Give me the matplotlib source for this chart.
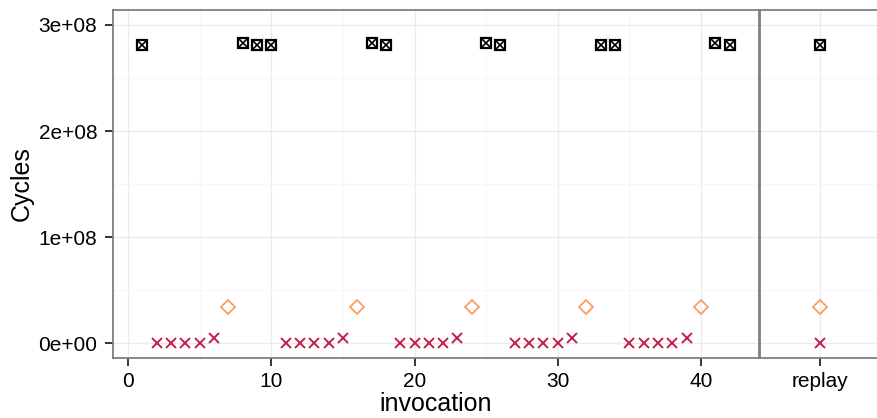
import matplotlib
matplotlib.use("Agg")
import matplotlib.pyplot as plt
from matplotlib.ticker import FixedLocator, FuncFormatter

plt.rcParams['font.family'] = ['Liberation Sans', 'DejaVu Sans']

# black boxed crosses: the big runs
big_x = [1, 8, 9, 10, 17, 18, 25, 26, 33, 34, 41, 42]
big_y = [2.81e8, 2.83e8, 2.81e8, 2.81e8, 2.83e8, 2.81e8,
         2.83e8, 2.81e8, 2.81e8, 2.81e8, 2.83e8, 2.81e8]

# orange diamonds
mid_x = [7, 16, 24, 32, 40]
mid_y = [0.345e8, 0.345e8, 0.345e8, 0.345e8, 0.345e8]

# red crosses: small runs
small_x = [2, 3, 4, 5, 6, 11, 12, 13, 14, 15, 19, 20, 21, 22, 23,
           27, 28, 29, 30, 31, 35, 36, 37, 38, 39]
small_y = [0, 0, 0, 0, 0.045e8] * 5

# replay panel values
replay_big = 2.81e8
replay_mid = 0.345e8
replay_small = 0.0

x_ticks = [0, 10, 20, 30, 40]
y_ticks = [0, 1e8, 2e8, 3e8]

c_big = 'black'
c_mid = '#F89F66'
c_small = '#C51F4B'
border = '#7F7F7F'

fig = plt.figure(figsize=(8.77, 4.18), dpi=100)
ax1 = fig.add_axes([113/877, 60/418, 646/877, 348/418])
ax2 = fig.add_axes([760/877, 60/418, 120/877, 348/418], sharey=ax1)


def style(ax):
    for s in ax.spines.values():
        s.set_color(border)
        s.set_linewidth(1.3)
    ax.grid(which='major', color='#EBEBEB', lw=1.0)
    ax.grid(which='minor', color='#F7F7F7', lw=0.8)
    ax.set_axisbelow(True)
    ax.tick_params(which='major', length=5.8, width=1.1, color='black',
                   labelsize=15, labelcolor='black')
    ax.tick_params(which='minor', length=0)
    ax.tick_params(axis='x', pad=4)
    ax.tick_params(axis='y', pad=5.5)


def draw(ax, bx, by, mx, my, sx, sy):
    ax.plot(bx, by, 's', ms=7, mfc='none', mec=c_big, mew=1.6, ls='none')
    ax.plot(bx, by, 'x', ms=5.5, mec=c_big, mew=1.2, ls='none')
    ax.plot(mx, my, 'D', ms=7.5, mfc='none', mec=c_mid, mew=1.3, ls='none')
    ax.plot(sx, sy, 'x', ms=7.5, mec=c_small, mew=1.4, ls='none')


draw(ax1, big_x, big_y, mid_x, mid_y, small_x, small_y)
ax1.set_xlim(-1.05, 44.05)
ax1.set_ylim(-0.139e8, 3.141e8)
ax1.xaxis.set_major_locator(FixedLocator(x_ticks))
ax1.xaxis.set_minor_locator(FixedLocator([5, 15, 25, 35]))
ax1.yaxis.set_major_locator(FixedLocator(y_ticks))
ax1.yaxis.set_minor_locator(FixedLocator([0.5e8, 1.5e8, 2.5e8]))
ax1.yaxis.set_major_formatter(FuncFormatter(lambda v, p: f"{v:.0e}"))
style(ax1)
ax1.set_xlabel('invocation', fontsize=18, labelpad=1)
ax1.set_ylabel('Cycles', fontsize=18, labelpad=3)

draw(ax2, [1], [replay_big], [1], [replay_mid], [1], [replay_small])
ax2.set_xlim(0.4, 1.6)
ax2.xaxis.set_major_locator(FixedLocator([1]))
ax2.xaxis.set_major_formatter(FuncFormatter(lambda v, p: 'replay'))
style(ax2)
ax2.tick_params(axis='y', left=False, labelleft=False)

fig.savefig('out.png', dpi=100, facecolor='white')
